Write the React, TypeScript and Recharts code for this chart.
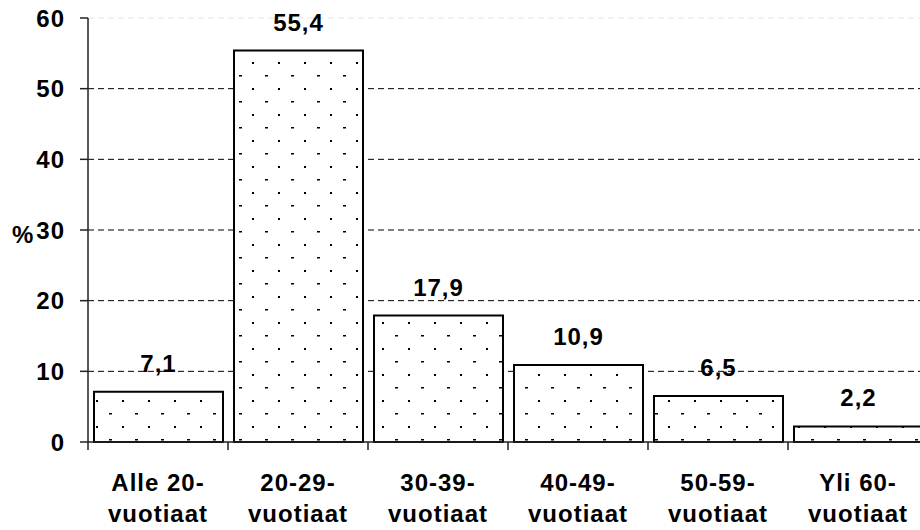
import React from 'react'
import { BarChart, Bar, XAxis, YAxis, CartesianGrid, LabelList } from 'recharts'

const ageGroups = ['Alle 20-', '20-29-', '30-39-', '40-49-', '50-59-', 'Yli 60-']
const ageSuffix = 'vuotiaat'
const shares = [7.1, 55.4, 17.9, 10.9, 6.5, 2.2]
const yTicks = [0, 10, 20, 30, 40, 50, 60]
const gridValues = [10, 20, 30, 40, 50]
const topGridValues = [60]

const data = ageGroups.map((group, i) => ({ group, share: shares[i] }))

const FONT = '"Liberation Sans", Arial, sans-serif'
const BAND = 140

const textStyle = {
  fontFamily: FONT,
  fontWeight: 700,
  fontSize: 24,
  letterSpacing: 1,
  fill: '#000',
}

function AgeTick(props: any) {
  const { x, payload } = props
  return (
    <g>
      <line x1={x - BAND / 2} x2={x - BAND / 2} y1={442} y2={450} stroke="#222" strokeWidth={1.5} />
      <text x={x} y={491} textAnchor="middle" style={textStyle}>
        {payload.value}
      </text>
      <text x={x} y={522} textAnchor="middle" style={textStyle}>
        {ageSuffix}
      </text>
    </g>
  )
}

function App(): React.JSX.Element {
  return (
    <div style={{ position: 'absolute', left: 0, top: 0, width: 920, height: 530, overflow: 'hidden', background: '#fff' }}>
      <svg width={0} height={0} style={{ position: 'absolute' }}>
        <defs>
          <pattern id="dots" width={26} height={26} patternUnits="userSpaceOnUse" x={18} y={10}>
            <rect width={26} height={26} fill="#fff" />
            <rect x={0} y={0} width={2} height={2} fill="#000" />
            <rect x={13} y={13} width={3} height={1.5} fill="#000" />
          </pattern>
        </defs>
      </svg>
      <BarChart width={928} height={530} data={data} margin={{ top: 18, right: 0, bottom: 0, left: 0 }} barSize={129}>
        <CartesianGrid vertical={false} horizontalValues={gridValues} stroke="#000" strokeDasharray="6 4" />
        <CartesianGrid vertical={false} horizontalValues={topGridValues} stroke="#e4e4e4" strokeDasharray="6 4" />
        <XAxis
          dataKey="group"
          height={88}
          interval={0}
          tickSize={0}
          tickMargin={0}
          tick={<AgeTick />}
          axisLine={{ stroke: '#222', strokeWidth: 1.5 }}
          tickLine={false}
        />
        <YAxis
          domain={[0, 60]}
          ticks={yTicks}
          width={88}
          tickSize={8}
          tickMargin={15}
          tick={textStyle}
          axisLine={{ stroke: '#222', strokeWidth: 1.5 }}
          tickLine={{ stroke: '#222', strokeWidth: 1.5 }}
          label={{ value: '%', position: 'insideLeft', offset: 12, dy: 4, style: textStyle }}
        />
        <Bar dataKey="share" fill="url(#dots)" stroke="#000" strokeWidth={2} isAnimationActive={false}>
          <LabelList
            dataKey="share"
            position="top"
            offset={20}
            formatter={(v: any) => Number(v).toFixed(1).replace('.', ',')}
            style={textStyle}
          />
        </Bar>
      </BarChart>
    </div>
  )
}

export default App
